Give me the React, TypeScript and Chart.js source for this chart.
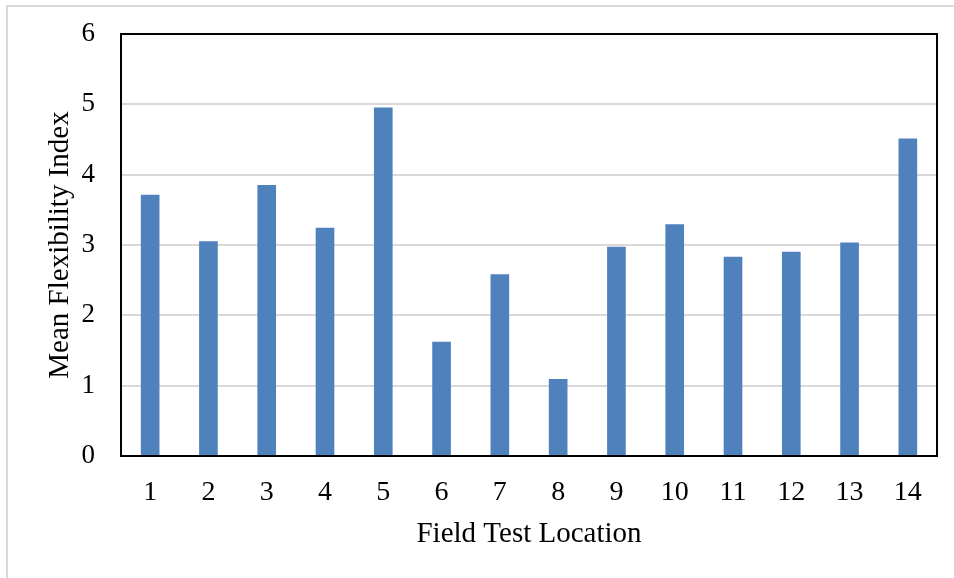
import React, { useEffect, useRef } from "react";
import { Chart, registerables } from "chart.js";

Chart.register(...registerables);

const categories = ["1", "2", "3", "4", "5", "6", "7", "8", "9", "10", "11", "12", "13", "14"];
const meanFlexibility = [3.71, 3.05, 3.85, 3.24, 4.95, 1.62, 2.58, 1.09, 2.97, 3.29, 2.83, 2.9, 3.03, 4.51];
const yTitle = "Mean Flexibility Index";
const xTitle = "Field Test Location";

const FONT = "'Liberation Serif', 'Times New Roman', serif";

const framePlugin = {
  id: "frame",
  beforeDraw(chart: any) {
    const ctx = chart.ctx;
    ctx.save();
    ctx.fillStyle = "#ffffff";
    ctx.fillRect(0, 0, chart.width, chart.height);
    ctx.fillStyle = "#d9d9d9";
    ctx.fillRect(6, 5, 2, chart.height - 5);
    ctx.fillRect(6, 5, chart.width - 6, 2);
    ctx.restore();
  },
  afterDatasetsDraw(chart: any) {
    const { ctx, chartArea } = chart;
    ctx.save();
    ctx.strokeStyle = "#000000";
    ctx.lineWidth = 2;
    ctx.strokeRect(chartArea.left, chartArea.top, chartArea.right - chartArea.left, chartArea.bottom - chartArea.top);
    ctx.restore();
  },
};

export default function App() {
  const ref = useRef<HTMLCanvasElement>(null);
  useEffect(() => {
    document.body.style.margin = "0";
    document.body.style.overflow = "hidden";
    const chart = new Chart(ref.current!, {
      type: "bar",
      data: {
        labels: categories,
        datasets: [
          {
            data: meanFlexibility,
            backgroundColor: "#4f81bd",
            barThickness: 18,
          },
        ],
      },
      options: {
        animation: false,
        responsive: false,
        devicePixelRatio: 1,
        layout: { padding: { left: 0, top: 34, right: 17, bottom: 0 } },
        plugins: { legend: { display: false }, tooltip: { enabled: false } },
        scales: {
          x: {
            grid: { display: false, drawTicks: false },
            border: { display: false },
            ticks: { color: "#000", font: { family: FONT, size: 28 }, padding: 20, maxRotation: 0 },
            title: { display: true, text: xTitle, color: "#000", font: { family: FONT, size: 29 }, padding: { top: 0, bottom: 26 } },
            afterFit(scale: any) {
              scale.height = 122;
              scale.paddingLeft = 0;
              scale.paddingRight = 0;
            },
          },
          y: {
            min: 0,
            max: 6,
            ticks: { stepSize: 1, color: "#000", font: { family: FONT, size: 27 }, padding: 26 },
            grid: { color: "#d9d9d9", lineWidth: 2, drawTicks: false },
            border: { display: false },
            title: { display: true, text: yTitle, color: "#000", font: { family: FONT, size: 29 }, padding: { top: 43, bottom: 0 } },
            afterFit(scale: any) {
              scale.width = 121;
              scale.paddingTop = 0;
              scale.paddingBottom = 0;
            },
          },
        },
      },
      plugins: [framePlugin],
    } as any);
    return () => chart.destroy();
  }, []);
  return <canvas ref={ref} width={954} height={578} style={{ display: "block" }} />;
}
